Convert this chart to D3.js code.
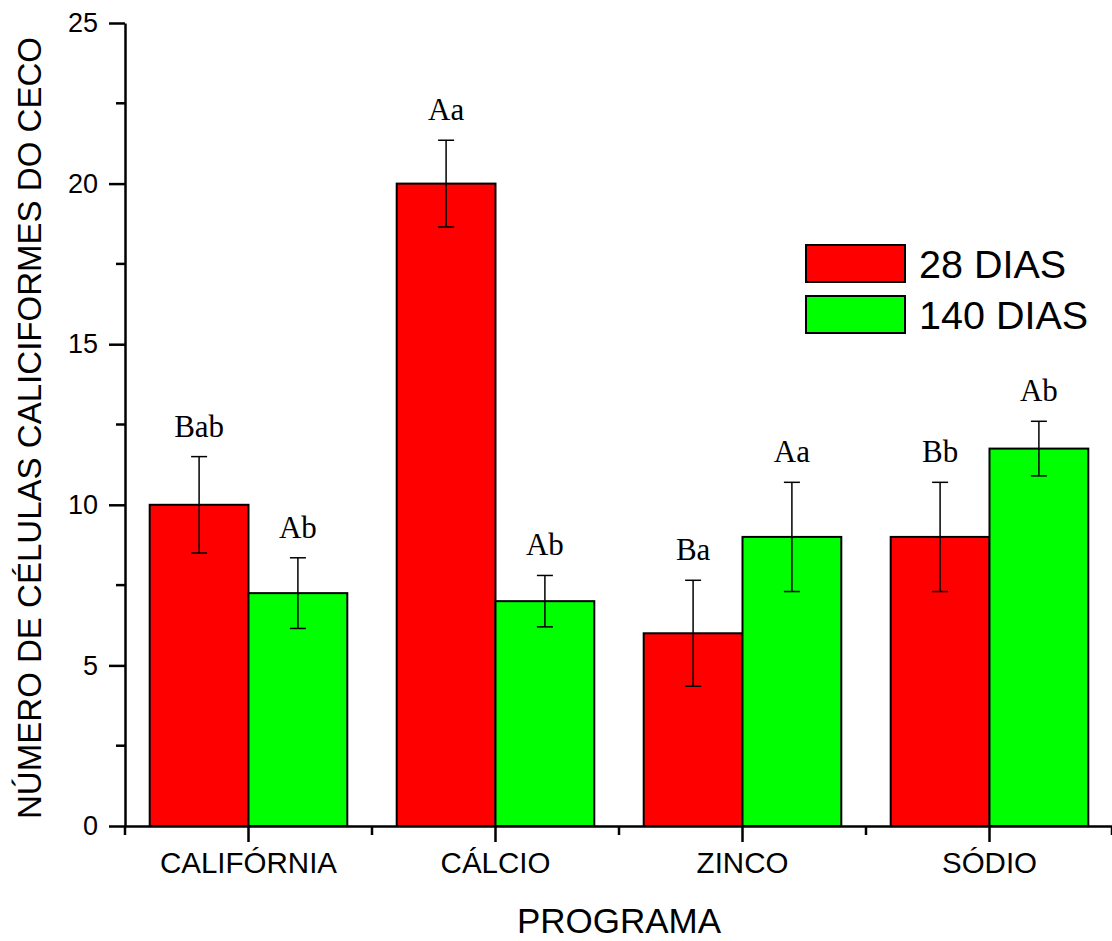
<!DOCTYPE html>
<html>
<head>
<meta charset="utf-8">
<script src="https://cdn.jsdelivr.net/npm/d3@7"></script>
<style>
  body { margin: 0; background: #fff; }
  svg { display: block; }
  text { font-family: "Liberation Sans", Arial, Helvetica, sans-serif; fill: #000; }
</style>
</head>
<body>
<script>
(function(){

// data
var programas = ["CALIFÓRNIA", "CÁLCIO", "ZINCO", "SÓDIO"];
var series = ["28 DIAS", "140 DIAS"];
var valores28 = [10, 20, 6, 9];
var valores140 = [7.25, 7, 9, 11.75];
var erro28 = [1.5, 1.35, 1.65, 1.7];
var erro140 = [1.1, 0.8, 1.7, 0.85];
var letras28 = ["Bab", "Aa", "Ba", "Bb"];
var letras140 = ["Ab", "Ab", "Aa", "Ab"];
var yTicks = [0, 5, 10, 15, 20, 25];
var cores = ["#ff0000", "#00ff00"];

var width = 1112,
    height = 941,
    left = 125,
    right = 1113,
    top = 23,
    bottom = 826;

var svg = d3.select("body")
    .append("svg")
    .attr("width", width)
    .attr("height", height);

// scales
var x = d3.scaleBand()
    .domain(programas)
    .range([left, right])
    .paddingInner(0.2)
    .paddingOuter(0.1);

var xInner = d3.scaleBand()
    .domain(series)
    .range([0, x.bandwidth()]);

var y = d3.scaleLinear()
    .domain([0, 25])
    .range([bottom, top]);

// table built from the arrays
var rows = [];
programas.forEach(function(p, i){
    rows.push({prog: p, s: series[0], v: valores28[i], e: erro28[i], lab: letras28[i], c: cores[0]});
    rows.push({prog: p, s: series[1], v: valores140[i], e: erro140[i], lab: letras140[i], c: cores[1]});
});

// bars
svg.selectAll(".bar")
    .data(rows)
    .enter()
    .append("rect")
    .attr("class", "bar")
    .attr("x", function(d){ return x(d.prog) + xInner(d.s); })
    .attr("y", function(d){ return y(d.v); })
    .attr("width", xInner.bandwidth())
    .attr("height", function(d){ return y(0) - y(d.v); })
    .attr("fill", function(d){ return d.c; })
    .attr("stroke", "#000")
    .attr("stroke-width", 2);

// error bars
var eb = svg.selectAll(".err")
    .data(rows)
    .enter()
    .append("g")
    .attr("class", "err")
    .attr("stroke", "#000")
    .attr("stroke-width", 1.5);

function cx(d){ return x(d.prog) + xInner(d.s) + xInner.bandwidth() / 2; }

eb.append("line")
    .attr("x1", cx).attr("x2", cx)
    .attr("y1", function(d){ return y(d.v + d.e); })
    .attr("y2", function(d){ return y(d.v - d.e); });
eb.append("line")
    .attr("x1", function(d){ return cx(d) - 8; })
    .attr("x2", function(d){ return cx(d) + 8; })
    .attr("y1", function(d){ return y(d.v + d.e); })
    .attr("y2", function(d){ return y(d.v + d.e); });
eb.append("line")
    .attr("x1", function(d){ return cx(d) - 8; })
    .attr("x2", function(d){ return cx(d) + 8; })
    .attr("y1", function(d){ return y(d.v - d.e); })
    .attr("y2", function(d){ return y(d.v - d.e); });

// significance letters
svg.selectAll(".letra")
    .data(rows)
    .enter()
    .append("text")
    .attr("class", "letra")
    .attr("x", cx)
    .attr("y", function(d){ return y(d.v + d.e) - 20; })
    .attr("text-anchor", "middle")
    .style("font-family", "'Liberation Serif', 'Times New Roman', serif")
    .style("font-size", "31px")
    .text(function(d){ return d.lab; });

// y axis
var yAxis = svg.append("g")
    .attr("transform", "translate(" + left + ",0)")
    .call(d3.axisLeft(y).tickValues(yTicks).tickSize(16).tickSizeOuter(0).tickPadding(11));
yAxis.selectAll("text").style("font-size", "27px");
yAxis.selectAll("line").attr("stroke-width", 2.5);
yAxis.select(".domain").attr("stroke-width", 2.5);

// y minor ticks
svg.append("g")
    .selectAll("line")
    .data(d3.range(2.5, 25, 5))
    .enter()
    .append("line")
    .attr("x1", left - 9).attr("x2", left)
    .attr("y1", function(d){ return y(d); })
    .attr("y2", function(d){ return y(d); })
    .attr("stroke", "#000")
    .attr("stroke-width", 2.5);

// x axis
var xAxis = svg.append("g")
    .attr("transform", "translate(0," + bottom + ")")
    .call(d3.axisBottom(x).tickSize(16).tickSizeOuter(0).tickPadding(10));
xAxis.selectAll("text").style("font-size", "29.5px");
xAxis.selectAll("line").attr("stroke-width", 2.5);
xAxis.select(".domain").attr("stroke-width", 2.5);

// x minor ticks at the group boundaries
var fronteiras = programas.map(function(p){ return x(p) - x.step() * x.paddingInner() / 2; });
fronteiras.push(x(programas[programas.length - 1]) + x.bandwidth() + x.step() * x.paddingInner() / 2 - 1);
svg.append("g")
    .selectAll("line")
    .data(fronteiras)
    .enter()
    .append("line")
    .attr("x1", function(d){ return d; })
    .attr("x2", function(d){ return d; })
    .attr("y1", bottom)
    .attr("y2", bottom + 9)
    .attr("stroke", "#000")
    .attr("stroke-width", 2.5);

// axis titles
svg.append("text")
    .attr("x", (left + right) / 2)
    .attr("y", 933)
    .attr("text-anchor", "middle")
    .style("font-size", "35px")
    .text("PROGRAMA");

svg.append("text")
    .attr("transform", "translate(41,428) rotate(-90)")
    .attr("text-anchor", "middle")
    .attr("textLength", 782)
    .attr("lengthAdjust", "spacingAndGlyphs")
    .style("font-size", "34px")
    .text("NÚMERO DE CÉLULAS CALICIFORMES DO CECO");

// legend
var legend = svg.append("g")
    .attr("transform", "translate(806,245)");
var item = legend.selectAll(".leg")
    .data(series)
    .enter()
    .append("g")
    .attr("class", "leg")
    .attr("transform", function(d, i){ return "translate(0," + (i * 51) + ")"; });
item.append("rect")
    .attr("width", 99)
    .attr("height", 37)
    .attr("fill", function(d, i){ return cores[i]; })
    .attr("stroke", "#000")
    .attr("stroke-width", 2);
item.append("text")
    .attr("x", 113)
    .attr("y", 33)
    .style("font-size", "39.5px")
    .text(function(d){ return d; });

})();
</script>
</body>
</html>
